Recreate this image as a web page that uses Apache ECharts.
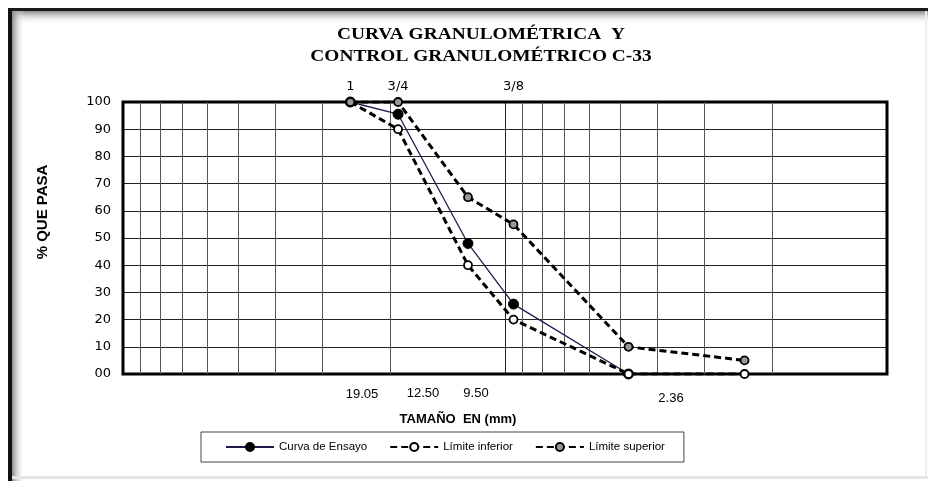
<!DOCTYPE html>
<html>
<head>
<meta charset="utf-8">
<script src="https://cdn.jsdelivr.net/npm/echarts@6/dist/echarts.min.js"></script>
<style>
  html, body { margin: 0; padding: 0; background: #fff; }
  #chart { width: 928px; height: 481px; }
</style>
</head>
<body>
<div id="chart"></div>
<script>
// tamaños de tamiz (mm) y % que pasa
var sizes = [25.4, 19.05, 12.5, 9.5, 4.75, 2.36]
var ensayo = [100, 95.5, 48, 25.7, 0]
var limInferior = [100, 90, 40, 20, 0, 0]
var limSuperior = [100, 100, 65, 55, 10, 5]

// etiquetas
var topTickValues = [25.4, 19.05, 9.5]
var topTickLabels = ['1', '3/4', '3/8']
var bottomLabels = ['19.05', '12.50', '9.50', '2.36']
var yTickLabels = ['00', '10', '20', '30', '40', '50', '60', '70', '80', '90', '100']
// lineas menores de la escala log
var minorX = [90, 80, 70, 60, 50, 40, 30, 20, 9, 8, 7, 6, 5, 4, 3, 2]

var bottomLabelPos = [[362, 394], [423, 393], [476, 393], [671, 398]]

function pairs (ys) {
  var out = []
  for (var i = 0; i < ys.length; i++) out.push([sizes[i], ys[i]])
  return out
}

var sans = '"Liberation Sans", Arial, sans-serif'
var wide = '"DejaVu Sans", sans-serif'
var serif = '"Liberation Serif", "Times New Roman", serif'

function label (txt, x, y, font, extra) {
  var el = { type: 'text', x: x, y: y,
    style: { text: txt, font: font, fill: '#000', align: 'center', textAlign: 'center', verticalAlign: 'middle', textVerticalAlign: 'middle' } }
  for (var k in (extra || {})) el[k] = extra[k]
  return el
}

var graphics = [
  // marco exterior con sombra
  { type: 'rect', z: -10, shape: { x: 12, y: 11, width: 916, height: 13 },
    style: { fill: new echarts.graphic.LinearGradient(0, 0, 0, 1, [{ offset: 0, color: '#8a8a8a' }, { offset: 1, color: 'rgba(255,255,255,0)' }]) } },
  { type: 'rect', z: -10, shape: { x: 12, y: 11, width: 13, height: 470 },
    style: { fill: new echarts.graphic.LinearGradient(0, 0, 1, 0, [{ offset: 0, color: '#8a8a8a' }, { offset: 1, color: 'rgba(255,255,255,0)' }]) } },
  { type: 'rect', z: -9, shape: { x: 8, y: 8, width: 920, height: 3 }, style: { fill: '#1a1a1a' } },
  { type: 'rect', z: -9, shape: { x: 8, y: 8, width: 4, height: 473 }, style: { fill: '#111' } },
  { type: 'rect', z: -9, shape: { x: 12, y: 476, width: 916, height: 3 }, style: { fill: '#e4e4e4' } },
  { type: 'rect', z: -9, shape: { x: 925, y: 11, width: 2, height: 466 }, style: { fill: '#eee' } },
  // titulo
  label('CURVA GRANULOMÉTRICA  Y', 481, 35, 'bold 17px ' + serif, { scaleX: 1.14 }),
  label('CONTROL GRANULOMÉTRICO C-33', 481, 57, 'bold 17px ' + serif, { scaleX: 1.14 }),
  // nombres de ejes
  label('TAMAÑO  EN (mm)', 458, 419, 'bold 13px ' + sans),
  label('% QUE PASA', 43, 212, 'bold 15px ' + sans, { rotation: Math.PI / 2 })
]
bottomLabels.forEach(function (t, i) {
  graphics.push(label(t, bottomLabelPos[i][0], bottomLabelPos[i][1], '13px ' + sans))
})

var myChart = echarts.init(document.getElementById('chart'))
myChart.setOption({
  animation: false,
  backgroundColor: '#fff',
  textStyle: { fontFamily: sans },
  graphic: graphics,
  grid: {
    left: 123, right: 41, top: 102, bottom: 107,
    show: true, borderColor: '#000', borderWidth: 3, z: 5
  },
  legend: {
    left: 201, top: 432,
    borderColor: '#444', borderWidth: 1,
    padding: [9, 19, 9, 24],
    itemGap: 22, itemWidth: 48, itemHeight: 10,
    textStyle: { fontSize: 11.5, color: '#000', fontFamily: sans },
    data: ['Curva de Ensayo', 'Límite inferior', 'Límite superior']
  },
  xAxis: [
    {
      type: 'log', logBase: 10, min: 1, max: 100, inverse: true,
      axisLine: { show: false }, axisTick: { show: false }, axisLabel: { show: false },
      splitLine: { show: true, lineStyle: { color: '#222', width: 1 } }
    },
    {
      type: 'log', logBase: 10, min: 1, max: 100, inverse: true, position: 'top',
      axisLine: { show: false },
      axisTick: { show: false, customValues: topTickValues },
      splitLine: { show: false },
      axisLabel: {
        show: true, customValues: topTickValues, margin: 9,
        fontSize: 13, color: '#000', fontFamily: wide,
        formatter: function (v) {
          for (var i = 0; i < topTickValues.length; i++) {
            if (Math.abs(topTickValues[i] - v) < 0.01) return topTickLabels[i]
          }
          return ''
        }
      }
    }
  ],
  yAxis: {
    type: 'value', min: 0, max: 100, interval: 10,
    axisLine: { show: false }, axisTick: { show: false },
    axisLabel: {
      margin: 12, fontSize: 13, color: '#000', fontFamily: wide,
      formatter: function (v) { return yTickLabels[Math.round(v / 10)] }
    },
    splitLine: { show: true, lineStyle: { color: '#222', width: 1 } }
  },
  series: [
    {
      name: 'grid-minor', type: 'line', data: [], z: 1, silent: true,
      markLine: {
        silent: true, symbol: 'none', animation: false,
        label: { show: false },
        lineStyle: { color: '#555', width: 1, type: 'solid' },
        data: minorX.map(function (v) { return { xAxis: v } })
      }
    },
    {
      name: 'Curva de Ensayo', type: 'line', z: 6,
      data: pairs(ensayo),
      symbol: 'circle', symbolSize: 10,
      lineStyle: { color: '#1c1c4c', width: 1.3, type: 'solid' },
      itemStyle: { color: '#000', borderColor: '#000', borderWidth: 1 }
    },
    {
      name: 'Límite inferior', type: 'line', z: 7,
      data: pairs(limInferior),
      symbol: 'circle', symbolSize: 8,
      lineStyle: { color: '#000', width: 3, type: [7, 4] },
      itemStyle: { color: '#fff', borderColor: '#000', borderWidth: 1.8 }
    },
    {
      name: 'Límite superior', type: 'line', z: 8,
      data: pairs(limSuperior),
      symbol: 'circle', symbolSize: 8,
      lineStyle: { color: '#000', width: 3, type: [7, 4] },
      itemStyle: { color: '#999', borderColor: '#000', borderWidth: 1.8 }
    }
  ]
})
</script>
</body>
</html>
